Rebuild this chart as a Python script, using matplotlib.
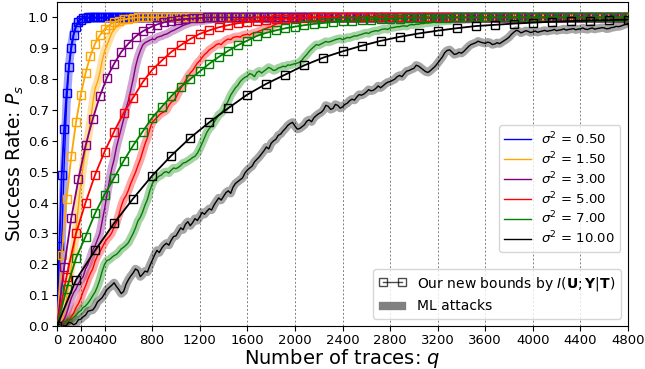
import numpy as np
import matplotlib
matplotlib.use("Agg")
import matplotlib.pyplot as plt
from matplotlib.lines import Line2D

# noise levels and colours
sigma2 = [0.50, 1.50, 3.00, 5.00, 7.00, 10.00]
colors = ["blue", "orange", "purple", "red", "green", "black"]

# bound curves: spacing of computed q points, then values
bound_step = [20, 40, 60, 80, 80, 160]
bound_b05 = [0.0, 0.26, 0.49, 0.64, 0.755, 0.84, 0.90, 0.943, 0.97, 0.985, 0.993, 0.997, 0.999]
bound_b15 = [0.0, 0.23, 0.41, 0.55, 0.66, 0.75, 0.82, 0.875, 0.915, 0.942, 0.962, 0.975,
             0.985, 0.99, 0.994, 0.996, 0.998]
bound_b3 = [0.0, 0.19, 0.35, 0.475, 0.585, 0.67, 0.745, 0.805, 0.85, 0.888, 0.915, 0.938,
            0.955, 0.967, 0.977, 0.984, 0.989, 0.992, 0.995, 0.997, 0.998]
bound_b5 = [0.0, 0.16, 0.30, 0.40, 0.49, 0.565, 0.63, 0.69, 0.74, 0.79, 0.83, 0.86, 0.888,
            0.91, 0.93, 0.947, 0.958, 0.968, 0.975, 0.981, 0.985, 0.989, 0.992, 0.994,
            0.996, 0.997, 0.998]
bound_b7 = [0.0, 0.12, 0.22, 0.29, 0.365, 0.426, 0.48, 0.535, 0.585, 0.63, 0.675, 0.71,
            0.745, 0.775, 0.80, 0.825, 0.85, 0.872, 0.892, 0.91, 0.925, 0.94, 0.95, 0.958,
            0.965, 0.97, 0.975, 0.979, 0.982, 0.985, 0.988, 0.99, 0.992, 0.993, 0.994,
            0.995, 0.996, 0.997, 0.998, 0.998, 0.999, 0.999]
bound_b10 = [0.0, 0.15, 0.245, 0.333, 0.413, 0.487, 0.552, 0.61, 0.66, 0.706, 0.75, 0.785,
             0.815, 0.845, 0.87, 0.89, 0.908, 0.924, 0.937, 0.948, 0.957, 0.965, 0.972,
             0.976, 0.98, 0.983, 0.986, 0.988, 0.99, 0.991, 0.993]

# ML attack success rates, read every 20 traces
ml_step = [20, 20, 20, 20, 20, 20]
ml_b05 = [0.0, 0.08, 0.28, 0.52, 0.72, 0.84, 0.91, 0.95, 0.975, 0.988, 0.995, 0.998]
ml_b15 = [0.0, 0.005, 0.02, 0.05, 0.09, 0.14, 0.19, 0.24, 0.31, 0.39, 0.46, 0.52, 0.57,
          0.61, 0.66, 0.72, 0.77, 0.79, 0.82, 0.86, 0.89, 0.91, 0.93, 0.95, 0.96, 0.97,
          0.977, 0.983, 0.987, 0.99, 0.992, 0.994, 0.996, 0.997, 0.998, 0.999]
ml_b3 = [0.0, 0.003, 0.010, 0.022, 0.040, 0.065, 0.090, 0.108, 0.120, 0.138, 0.150, 0.160,
         0.185, 0.200, 0.220, 0.245, 0.260, 0.280, 0.300, 0.340, 0.380, 0.425, 0.470, 0.510,
         0.540, 0.580, 0.610, 0.640, 0.670, 0.705, 0.730, 0.765, 0.800, 0.840, 0.870, 0.892,
         0.910, 0.918, 0.922, 0.926, 0.930, 0.928, 0.935, 0.938, 0.940, 0.944, 0.946, 0.950,
         0.955, 0.958, 0.962, 0.966, 0.970, 0.974, 0.977, 0.980, 0.983, 0.985, 0.986, 0.987,
         0.988, 0.989, 0.990, 0.991, 0.992, 0.994, 0.995, 0.996, 0.997]
ml_b5 = [0.0, 0.001, 0.003, 0.006, 0.010, 0.018, 0.030, 0.042, 0.060, 0.072, 0.090, 0.112,
         0.130, 0.152, 0.170, 0.185, 0.210, 0.228, 0.240, 0.255, 0.270, 0.282, 0.290, 0.302,
         0.320, 0.335, 0.360, 0.388, 0.410, 0.422, 0.440, 0.462, 0.480, 0.498, 0.520, 0.540,
         0.565, 0.590, 0.610, 0.638, 0.660, 0.668, 0.675, 0.684, 0.690, 0.694, 0.700, 0.715,
         0.725, 0.730, 0.740, 0.756, 0.770, 0.782, 0.795, 0.808, 0.820, 0.828, 0.840, 0.852,
         0.860, 0.870, 0.880, 0.886, 0.895, 0.900, 0.905, 0.912, 0.915, 0.912, 0.920, 0.926,
         0.930, 0.928, 0.935, 0.937, 0.938, 0.936, 0.942, 0.944, 0.945, 0.943, 0.948, 0.950,
         0.952, 0.956, 0.958, 0.962, 0.965, 0.968, 0.970, 0.975, 0.978, 0.982, 0.985, 0.988,
         0.990, 0.991, 0.992, 0.994, 0.995, 0.996, 0.997, 0.998]
ml_b7 = [0.000, 0.002, 0.005, 0.008, 0.012, 0.018, 0.022, 0.028, 0.035, 0.044, 0.050, 0.060,
         0.065, 0.074, 0.085, 0.098, 0.110, 0.128, 0.150, 0.178, 0.200, 0.212, 0.215, 0.222,
         0.228, 0.232, 0.240, 0.250, 0.255, 0.262, 0.270, 0.285, 0.300, 0.318, 0.340, 0.352,
         0.370, 0.392, 0.410, 0.438, 0.460, 0.474, 0.480, 0.486, 0.490, 0.498, 0.500, 0.496,
         0.505, 0.512, 0.510, 0.514, 0.520, 0.528, 0.530, 0.535, 0.540, 0.546, 0.550, 0.560,
         0.575, 0.592, 0.610, 0.628, 0.640, 0.648, 0.660, 0.672, 0.685, 0.690, 0.700, 0.716,
         0.730, 0.748, 0.760, 0.772, 0.780, 0.792, 0.800, 0.806, 0.810, 0.818, 0.815, 0.808,
         0.822, 0.826, 0.820, 0.826, 0.832, 0.838, 0.834, 0.828, 0.830, 0.836, 0.838, 0.842,
         0.840, 0.846, 0.845, 0.848, 0.850, 0.852, 0.855, 0.862, 0.872, 0.880, 0.890, 0.898,
         0.905, 0.912, 0.910, 0.914, 0.918, 0.922, 0.920, 0.922, 0.925, 0.928, 0.930, 0.932,
         0.928, 0.931, 0.935, 0.934, 0.937, 0.940, 0.940, 0.943, 0.945, 0.948, 0.950, 0.948,
         0.953, 0.955, 0.957, 0.956, 0.960, 0.962, 0.963, 0.961, 0.966, 0.967, 0.968, 0.970,
         0.970, 0.972, 0.973, 0.971, 0.975, 0.977, 0.976, 0.978, 0.978, 0.980, 0.980, 0.982,
         0.982, 0.983, 0.984, 0.985, 0.986, 0.987, 0.988, 0.988, 0.990, 0.989, 0.991, 0.990,
         0.992, 0.991, 0.993, 0.992, 0.994, 0.993, 0.995, 0.994, 0.996, 0.995, 0.997, 0.996,
         0.997]
ml_b10 = [0.000, 0.006, 0.004, 0.000, 0.002, 0.012, 0.010, 0.004, 0.008, 0.020, 0.022, 0.030,
          0.035, 0.048, 0.050, 0.052, 0.062, 0.078, 0.085, 0.092, 0.105, 0.118, 0.125, 0.132,
          0.140, 0.128, 0.118, 0.105, 0.112, 0.135, 0.150, 0.162, 0.172, 0.185, 0.180, 0.160,
          0.168, 0.178, 0.175, 0.195, 0.212, 0.230, 0.245, 0.238, 0.252, 0.262, 0.268, 0.262,
          0.278, 0.290, 0.292, 0.305, 0.318, 0.312, 0.330, 0.338, 0.325, 0.335, 0.348, 0.342,
          0.354, 0.368, 0.362, 0.372, 0.380, 0.376, 0.392, 0.404, 0.415, 0.408, 0.420, 0.432,
          0.438, 0.430, 0.450, 0.462, 0.468, 0.474, 0.480, 0.496, 0.505, 0.512, 0.518, 0.532,
          0.540, 0.548, 0.558, 0.568, 0.580, 0.574, 0.592, 0.600, 0.605, 0.618, 0.622, 0.632,
          0.640, 0.650, 0.656, 0.660, 0.648, 0.638, 0.640, 0.646, 0.652, 0.664, 0.668, 0.662,
          0.675, 0.682, 0.688, 0.692, 0.700, 0.715, 0.712, 0.702, 0.705, 0.718, 0.715, 0.706,
          0.710, 0.718, 0.722, 0.730, 0.735, 0.732, 0.742, 0.750, 0.748, 0.752, 0.758, 0.766,
          0.762, 0.764, 0.770, 0.778, 0.772, 0.778, 0.785, 0.790, 0.792, 0.796, 0.800, 0.808,
          0.812, 0.808, 0.818, 0.826, 0.828, 0.832, 0.835, 0.845, 0.842, 0.836, 0.830, 0.824,
          0.822, 0.828, 0.835, 0.842, 0.852, 0.862, 0.872, 0.886, 0.893, 0.895, 0.888, 0.880,
          0.882, 0.887, 0.884, 0.890, 0.898, 0.906, 0.912, 0.915, 0.918, 0.923, 0.920, 0.918,
          0.916, 0.920, 0.918, 0.912, 0.914, 0.918, 0.915, 0.920, 0.925, 0.930, 0.936, 0.945,
          0.952, 0.958, 0.956, 0.950, 0.953, 0.957, 0.955, 0.951, 0.953, 0.956, 0.952, 0.954,
          0.956, 0.958, 0.955, 0.957, 0.958, 0.961, 0.957, 0.959, 0.960, 0.963, 0.959, 0.961,
          0.962, 0.964, 0.960, 0.962, 0.963, 0.966, 0.962, 0.961, 0.964, 0.966, 0.962, 0.964,
          0.965, 0.967, 0.966, 0.963, 0.964, 0.967, 0.968, 0.971, 0.970, 0.972, 0.975, 0.978,
          0.980]

bounds = [bound_b05, bound_b15, bound_b3, bound_b5, bound_b7, bound_b10]
mls = [ml_b05, ml_b15, ml_b3, ml_b5, ml_b7, ml_b10]

xticks = [0, 200, 400, 800, 1200, 1600, 2000, 2400, 2800, 3200, 3600, 4000, 4400, 4800]
q_max = 4800


def to_grid(vals, step, pad):
    q = np.arange(0, q_max + 1, step)
    ps = (list(vals) + [pad] * len(q))[:len(q)]
    return q, np.array(ps)


fig = plt.figure(figsize=(6.45, 3.69), dpi=100)
ax = fig.add_axes([57 / 645, 1 - 326 / 369, 571 / 645, 324 / 369])

# ML attacks first (wide translucent band + thin line)
for vals, step, c in zip(mls, ml_step, colors):
    q, ps = to_grid(vals, step, vals[-1])
    ax.plot(q, ps, color=c, lw=6, alpha=0.35, solid_capstyle="round", zorder=2)
    ax.plot(q, ps, color=c, lw=1.0, zorder=3)

# bounds on top
for vals, step, c in zip(bounds, bound_step, colors):
    q, ps = to_grid(vals, step, 1.0)
    ax.plot(q, ps, color=c, lw=1.3, marker="s", markersize=6, mfc="none",
            mew=1.0, zorder=4)

ax.set_xlim(0, q_max)
ax.set_ylim(0, 1.05)
ax.set_xticks(xticks)
ax.set_xticklabels([str(t) for t in xticks])
ax.set_yticks(np.arange(0, 1.01, 0.1))
ax.set_yticklabels([f"{v:.1f}" for v in np.arange(0, 1.01, 0.1)])
ax.tick_params(labelsize=9.5, pad=2.5)
ax.grid(axis="x", linestyle=(0, (2, 2)), color="gray", lw=0.7)
ax.set_xlabel("Number of traces: $q$", fontsize=14, labelpad=0)
ax.set_ylabel("Success Rate: $P_s$", fontsize=13.5, labelpad=1)

# legend for the noise levels
sig_handles = [Line2D([], [], color=c, lw=1.0) for c in colors]
sig_labels = [r"$\sigma^2$ = %.2f" % s for s in sigma2]
leg1 = ax.legend(sig_handles, sig_labels, loc="upper right",
                 bbox_to_anchor=(0.998, 0.64), fontsize=9.5, labelspacing=0.25)
ax.add_artist(leg1)

# legend for line kinds
kind_handles = [Line2D([], [], color="black", lw=1.0, marker="s", mfc="none",
                       markersize=6, mew=1.0, alpha=0.7),
                Line2D([], [], color="gray", lw=6)]
kind_labels = [r"Our new bounds by $I(\mathbf{U};\mathbf{Y}|\mathbf{T})$", "ML attacks"]
ax.legend(kind_handles, kind_labels, loc="lower right", fontsize=10, numpoints=2)

fig.savefig("out.png", dpi=100)
